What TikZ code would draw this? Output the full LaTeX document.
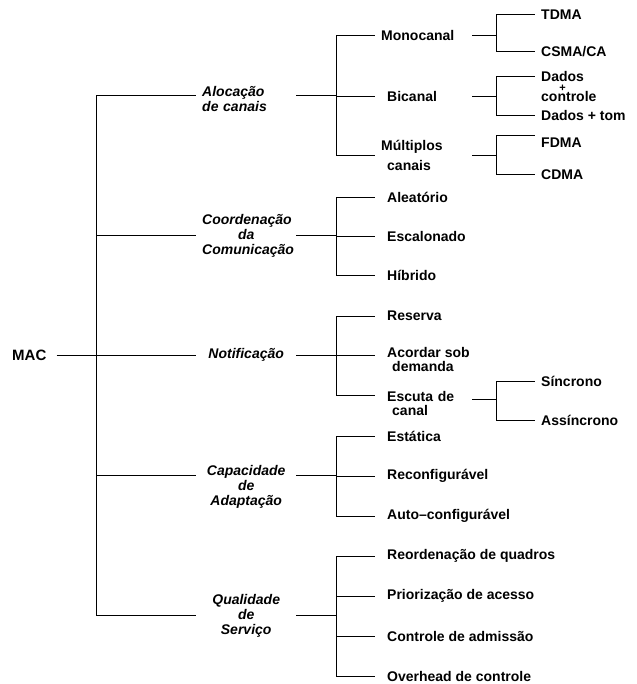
\documentclass[tikz,border=0pt]{standalone}
\usepackage{fontspec}
\setmainfont{Liberation Sans}
\usetikzlibrary{positioning}

\begin{document}
\begin{tikzpicture}[x=1pt, y=-1pt,
    every node/.style={font=\fontsize{14}{15}\selectfont\bfseries},
    rootbox/.style={anchor=west, inner xsep=10pt, font=\fontsize{15}{17}\selectfont\bfseries},
    catbox/.style={anchor=west, text width=88pt, inner xsep=6pt, align=center, font=\fontsize{14}{15}\selectfont\bfseries\itshape},
    parentbox/.style={anchor=west, text width=73pt, inner xsep=12pt, align=left},
    leafbox/.style={anchor=west, inner xsep=12pt, align=left},
    subbox/.style={anchor=west, inner xsep=6pt, align=left},
    link/.style={line width=1pt}]
    \useasboundingbox (0,0) rectangle (636,684);

    % root and first level
    \node[rootbox] (mac) at (2,355) {MAC};
    \node[catbox, align=left] (aloc) at (196,99) {Alocação\\de canais};
    \node[catbox] (coord) at (196,235.5) {Coordenação\\da\\Comunicação};
    \node[catbox] (notif) at (196,355) {Notificação};
    \node[catbox] (adapt) at (196,486.7) {Capacidade\\de\\Adaptação};
    \node[catbox] (qos) at (196,615.5) {Qualidade\\de\\Serviço};

    % second level
    \node[parentbox] (mono) at (375,35.5) {\hspace*{-6pt}Monocanal};
    \node[parentbox] (bic) at (375,96.7) {Bicanal};
    \node[parentbox] (mult) at (375,155.5) {\hspace*{-6pt}Múltiplos\\[5pt]canais};
    \node[leafbox] (alea) at (375,197.5) {Aleatório};
    \node[leafbox] (escal) at (375,236.3) {Escalonado};
    \node[leafbox] (hibr) at (375,275.5) {Híbrido};
    \node[leafbox] (reserva) at (375,316) {Reserva};
    \node[leafbox] (acordar) at (375,359.4) {Acordar sob\\[-1.7pt]\hspace*{5pt}demanda};
    \node[parentbox] (escuta) at (375,403.7) {Escuta de\\[-1pt]\hspace*{5pt}canal};
    \node[leafbox] (estat) at (375,436.7) {Estática};
    \node[leafbox] (reconf) at (375,476.3) {Reconfigurável};
    \node[leafbox] (autoconf) at (375,516.3) {Auto\textendash configurável};
    \node[leafbox] (reord) at (375,556) {Reordenação de quadros};
    \node[leafbox] (prior) at (375,596) {Priorização de acesso};
    \node[leafbox] (admis) at (375,636) {Controle de admissão};
    \node[leafbox] (overh) at (375,676) {Overhead de controle};

    % third level
    \node[subbox] (tdma) at (535,14.5) {TDMA};
    \node[subbox] (csma) at (535,51.7) {CSMA/CA};
    \node[subbox] (dctrl) at (535,86.7) {\lineskiplimit=-20pt\relax Dados\\[-5pt]\makebox[43pt]{\fontsize{11}{11}\selectfont +}\\[-5pt]controle};
    \node[subbox] (dtom) at (535,115.5) {Dados + tom};
    \node[subbox] (fdma) at (535,142.5) {FDMA};
    \node[subbox] (cdma) at (535,175) {CDMA};
    \node[subbox] (sinc) at (535,381.3) {Síncrono};
    \node[subbox] (assinc) at (535,420) {Assíncrono};

    % junctions
    \coordinate (j0) at ([xshift=40pt]mac.east);
    \coordinate (ja) at ([xshift=40pt, yshift=3.3pt]aloc.east);
    \coordinate (jc) at ([xshift=40pt]coord.east);
    \coordinate (jn) at ([xshift=40pt]notif.east);
    \coordinate (jk) at ([xshift=40pt, yshift=11.4pt]adapt.east);
    \coordinate (jq) at ([xshift=40pt]qos.east);
    \coordinate (jm) at ([xshift=24pt]mono.east);
    \coordinate (jb) at ([xshift=24pt]bic.east);
    \coordinate (jt) at ([xshift=24pt]mult.east);
    \coordinate (je) at ([xshift=24pt, yshift=4.7pt]escuta.east);

    % connectors
    \draw[link] (mac) -- (notif);
    \draw[link] (j0) |- ([yshift=3.3pt]aloc.west);
    \draw[link] (j0) |- ([yshift=11.4pt]adapt.west);
    \foreach \n in {coord,qos} \draw[link] (j0) |- (\n.west);

    \draw[link] ([yshift=3.3pt]aloc.east) -- (ja);
    \draw[link] (coord.east) -- (jc);
    \draw[link] (notif.east) -- (jn);
    \draw[link] ([yshift=11.4pt]adapt.east) -- (jk);
    \draw[link] (qos.east) -- (jq);

    \foreach \n in {mono,bic,mult} \draw[link] (ja) |- (\n.west);
    \foreach \n in {alea,escal,hibr} \draw[link] (jc) |- (\n.west);
    \draw[link] (jn) |- (reserva.west);
    \draw[link] (jn) |- ([yshift=3.7pt]acordar.west);
    \draw[link] (jn) |- ([yshift=8.7pt]escuta.west);
    \foreach \n in {estat,reconf,autoconf} \draw[link] (jk) |- (\n.west);
    \foreach \n in {reord,prior,admis,overh} \draw[link] (jq) |- (\n.west);

    \draw[link] (mono.east) -- (jm);
    \draw[link] (bic.east) -- (jb);
    \draw[link] (mult.east) -- (jt);
    \draw[link] ([yshift=4.7pt]escuta.east) -- (je);
    \foreach \n in {tdma,csma} \draw[link] (jm) |- (\n.west);
    \draw[link] (jb) |- ([yshift=10pt]dctrl.west);
    \draw[link] (jb) |- (dtom.west);
    \draw[link] (jt) |- ([yshift=6.5pt]fdma.west);
    \draw[link] (jt) |- (cdma.west);
    \foreach \n in {sinc,assinc} \draw[link] (je) |- (\n.west);
\end{tikzpicture}
\end{document}
